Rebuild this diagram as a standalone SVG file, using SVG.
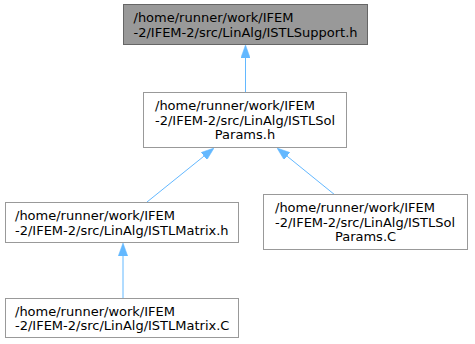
<svg xmlns="http://www.w3.org/2000/svg" width="475" height="344" viewBox="0 0 475 344">
<style>
  .box { fill: #ffffff; stroke: #999999; stroke-width: 1; }
  .cur { fill: #999999; stroke: #666666; stroke-width: 1; }
  text { font-family: "DejaVu Sans", sans-serif; font-size: 13px; fill: #000000; }
  .c { text-anchor: middle; }
  .edge { fill: none; stroke: #63b8ff; stroke-width: 1; marker-end: url(#arr); }
</style>
<defs>
  <marker id="arr" viewBox="0 0 13 9.4" refX="0" refY="4.7" markerWidth="13" markerHeight="9.4" markerUnits="userSpaceOnUse" orient="auto">
    <path d="M0,0 L13,4.7 L0,9.4 z" fill="#63b8ff" stroke="#63b8ff" stroke-width="0.5"/>
  </marker>
</defs>
<rect width="475" height="344" fill="#ffffff"/>
<g id="connectors">
  <path class="edge" d="M245.5,92 L245.5,58"/>
  <path class="edge" d="M147,202 L203.9,156.2"/>
  <path class="edge" d="M335,195 L287.1,156.2"/>
  <path class="edge" d="M123,298 L123,256"/>
</g>
<g id="node1">
  <rect class="cur" x="123.5" y="4.5" width="244" height="40"/>
  <text x="133.5" y="22">/home/runner/work/IFEM</text>
  <text x="133.5" y="36.5">-2/IFEM-2/src/LinAlg/ISTLSupport.h</text>
</g>
<g id="node2">
  <rect class="box" x="143.5" y="92.5" width="203" height="55"/>
  <text x="155" y="110.2">/home/runner/work/IFEM</text>
  <text x="155" y="124.7">-2/IFEM-2/src/LinAlg/ISTLSol</text>
  <text class="c" x="245" y="139.2">Params.h</text>
</g>
<g id="node3">
  <rect class="box" x="5.5" y="202.5" width="233" height="40"/>
  <text x="15" y="220">/home/runner/work/IFEM</text>
  <text x="15" y="234.5">-2/IFEM-2/src/LinAlg/ISTLMatrix.h</text>
</g>
<g id="node4">
  <rect class="box" x="263.5" y="194.5" width="204" height="55"/>
  <text x="275" y="212.2">/home/runner/work/IFEM</text>
  <text x="275" y="226.7">-2/IFEM-2/src/LinAlg/ISTLSol</text>
  <text class="c" x="365.5" y="241.2">Params.C</text>
</g>
<g id="node5">
  <rect class="box" x="5.5" y="298.5" width="233" height="39"/>
  <text x="15" y="315.5">/home/runner/work/IFEM</text>
  <text x="15" y="330">-2/IFEM-2/src/LinAlg/ISTLMatrix.C</text>
</g>
</svg>
